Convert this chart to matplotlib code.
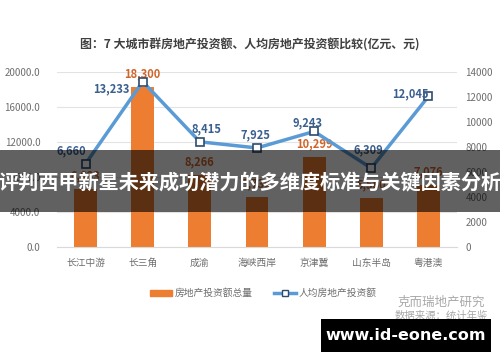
import numpy as np
import matplotlib
matplotlib.use("Agg")
import matplotlib.pyplot as plt
from matplotlib.patches import Rectangle, Patch
from matplotlib.lines import Line2D

plt.rcParams['font.family'] = ['Noto Sans CJK SC', 'DejaVu Sans']

# data
regions = ["长江中游", "长三角", "成渝", "海峡西岸", "京津冀", "山东半岛", "粤港澳"]
invest_total = [6633, 18300, 8266, 5730, 10299, 5580, 7076]   # 亿元
invest_per_cap = [6660, 13233, 8415, 7925, 9243, 6309, 12045]  # 元
left_ticks = [0, 4000, 8000, 12000, 16000, 20000]
right_ticks = [0, 2000, 4000, 6000, 8000, 10000, 12000, 14000]

# label offsets (pixels) for the per-capita labels, as placed in the source
per_cap_offsets = [(-14, 13), (-31, -7), (7, 13), (-2, 13), (-7, 9), (-3, 18), (-18, 3)]

ORANGE = "#ED7D31"
ORANGE_TXT = "#D0652A"
BLUE = "#5B9BD5"
BLUE_DARK = "#2E4B6E"
BLUE_TXT = "#3A5F8F"
GRAY = "#6E6E6E"

fig = plt.figure(figsize=(5.0, 3.62), dpi=100)
ax = fig.add_axes([0.114, 0.3177, 0.80, 0.4834])
ax2 = ax.twinx()

x = np.arange(len(regions))
ax.bar(x, invest_total, width=0.4, color=ORANGE, zorder=2)
ax.set_ylim(0, 20000)
ax.set_xlim(-0.5, len(regions) - 0.5)
ax.set_yticks(left_ticks)
ax.set_yticklabels([f"{v:.1f}" for v in left_ticks])
ax.grid(axis='y', color="#E3E3E3", linewidth=0.8, zorder=0)
ax.set_axisbelow(True)
ax.set_xticks(x)
ax.set_xticklabels(regions)
for a in (ax, ax2):
    for s in a.spines.values():
        s.set_visible(False)
    a.tick_params(length=0, labelsize=7, colors=GRAY)
ax.spines['bottom'].set_visible(True)
ax.spines['bottom'].set_color("#D9D9D9")
ax.tick_params(axis='x', pad=8)
ax.tick_params(axis='y', pad=12)

for xi, v in zip(x, invest_total):
    ax.annotate(f"{v:,}", (xi, v), xytext=(0, 13), textcoords='offset pixels',
                ha='center', va='center', fontsize=8, fontweight='bold',
                color=ORANGE_TXT, zorder=3)

ax2.plot(x, invest_per_cap, color=BLUE, linewidth=2.5, marker='s', markersize=6,
         markerfacecolor='white', markeredgecolor=BLUE_DARK, markeredgewidth=1.2, zorder=4)
ax2.set_ylim(0, 14000)
ax2.set_yticks(right_ticks)
ax2.tick_params(axis='y', pad=6)
for xi, v, off in zip(x, invest_per_cap, per_cap_offsets):
    ax2.annotate(f"{v:,}", (xi, v), xytext=off, textcoords='offset pixels',
                 ha='center', va='center', fontsize=8, fontweight='bold',
                 color=BLUE_TXT, zorder=5)

fig.text(0.5, 0.876, "图：7 大城市群房地产投资额、人均房地产投资额比较(亿元、元)",
         ha='center', va='center', fontsize=8.6, fontweight='bold', color="#404040")

handles = [Patch(color=ORANGE),
           Line2D([], [], color=BLUE, linewidth=2.5, marker='s', markersize=5,
                  markerfacecolor='white', markeredgecolor=BLUE_DARK)]
fig.legend(handles, ["房地产投资额总量", "人均房地产投资额"], loc='center',
           bbox_to_anchor=(0.527, 0.19), ncol=2, frameon=False, fontsize=7,
           labelcolor=GRAY, handlelength=2.2, handleheight=0.5, columnspacing=2.2,
           handletextpad=0.3)

fig.text(0.97, 0.165, "克而瑞地产研究", ha='right', va='center', fontsize=9, color="#A8A8A8")
fig.text(0.975, 0.127, "数据来源：统计年鉴", ha='right', va='center', fontsize=7.5, color="#A8A8A8")

# overlay banner
fig.add_artist(Rectangle((0, 1 - 212 / 362), 1, 62 / 362, transform=fig.transFigure,
                         facecolor='black', alpha=0.62, edgecolor='none', zorder=10))
fig.text(0.5, 1 - 183 / 362, "评判西甲新星未来成功潜力的多维度标准与关键因素分析",
         ha='center', va='center', fontsize=14.5, fontweight='bold', color='white', zorder=11)

# watermark box
fig.add_artist(Rectangle((321 / 500, 1 - 352 / 362), 170 / 500, 33 / 362,
                         transform=fig.transFigure, facecolor='black', edgecolor='none', zorder=10))
fig.text(406 / 500, 1 - 335 / 362, "www.id-eone.com", ha='center', va='center',
         fontsize=11.5, fontweight='bold', color='white', family='DejaVu Sans', zorder=11)

fig.savefig("out.png", dpi=100)
